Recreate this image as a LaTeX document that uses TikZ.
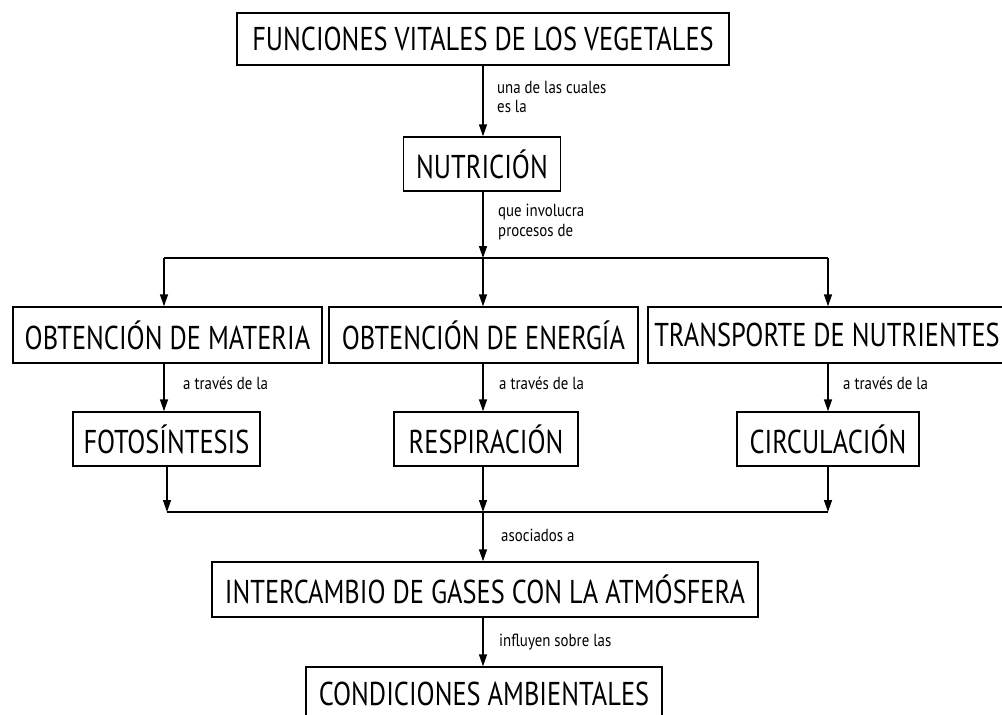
\documentclass[tikz,border=0pt]{standalone}
\usepackage{fontspec}
\usetikzlibrary{arrows.meta}
\newfontfamily\boxfont{PT Sans}[FakeStretch=0.8]
\newfontfamily\lblfont{PT Sans}[FakeStretch=0.85]
\begin{document}
\begin{tikzpicture}[x=1pt,y=-1pt,
  cbox/.style={draw, line width=1.4pt, inner sep=0pt, font=\boxfont\fontsize{33}{36}\selectfont, minimum height=54pt},
  lbl/.style={anchor=west, inner sep=0pt, align=left, font=\lblfont\fontsize{17.5}{19.5}\selectfont},
  conn/.style={line width=1.4pt},
  arr/.style={conn, -{Triangle[length=12pt,width=8pt]}}]
\useasboundingbox (0,0) rectangle (1002,715);
\fill[white] (0,0) rectangle (1002,715);
% boxes
\node[cbox, minimum width=492pt, minimum height=52pt] (top) at (483,39) {FUNCIONES VITALES DE LOS VEGETALES};
\node[cbox, minimum width=157pt] (nut) at (482,164) {NUTRICIÓN};
\node[cbox, minimum width=309pt, minimum height=56pt] (m1) at (167.5,335) {OBTENCIÓN DE MATERIA};
\node[cbox, minimum width=309pt, minimum height=56pt] (m2) at (483.5,335) {OBTENCIÓN DE ENERGÍA};
\node[cbox, minimum width=358pt, minimum height=56pt] (m3) at (827,335) {TRANSPORTE DE NUTRIENTES};
\node[cbox, minimum width=187pt] (f) at (166.5,439) {FOTOSÍNTESIS};
\node[cbox, minimum width=184pt] (r) at (486,439) {RESPIRACIÓN};
\node[cbox, minimum width=182pt] (c) at (828,439) {CIRCULACIÓN};
\node[cbox, minimum width=546pt, minimum height=55pt] (i) at (485,589.5) {INTERCAMBIO DE GASES CON LA ATMÓSFERA};
\node[cbox, minimum width=356pt] (cond) at (484,694) {CONDICIONES AMBIENTALES};
% bar coordinates
\coordinate (t1) at (164,258);
\coordinate (t2) at (483,258);
\coordinate (t3) at (828,258);
\coordinate (u1) at (167,512);
\coordinate (u2) at (483,512);
\coordinate (u3) at (828,512);
% connectors
\draw[arr] (top.south -| t2) -- (nut.north -| t2);
\draw[arr] (nut.south -| t2) -- (t2);
\draw[conn] (t1) -- (t3);
\draw[arr] (t1) -- (m1.north -| t1);
\draw[arr] (t2) -- (m2.north -| t2);
\draw[arr] (t3) -- (m3.north -| t3);
\draw[arr] (m1.south -| t1) -- (f.north -| t1);
\draw[arr] (m2.south -| t2) -- (r.north -| t2);
\draw[arr] (m3.south -| t3) -- (c.north -| t3);
\draw[arr] (f.south -| u1) -- (u1);
\draw[arr] (r.south -| u2) -- (u2);
\draw[arr] (c.south -| u3) -- (u3);
\draw[conn] (u1) -- (u3);
\draw[arr] (u2) -- (i.north -| u2);
\draw[arr] (i.south -| u2) -- (cond.north -| u2);
% labels
\node[lbl] (l1) at (497,97) {una de las cuales\\es la};
\node[lbl] (l2) at (498,222) {que involucra\\procesos de};
\node[lbl] (l3) at (183,383) {a través de la};
\node[lbl] (l4) at (499,383) {a través de la};
\node[lbl] (l5) at (843,383) {a través de la};
\node[lbl] (l6) at (501,535) {asociados a};
\node[lbl] (l7) at (499,642) {influyen sobre las};
\end{tikzpicture}
\end{document}
